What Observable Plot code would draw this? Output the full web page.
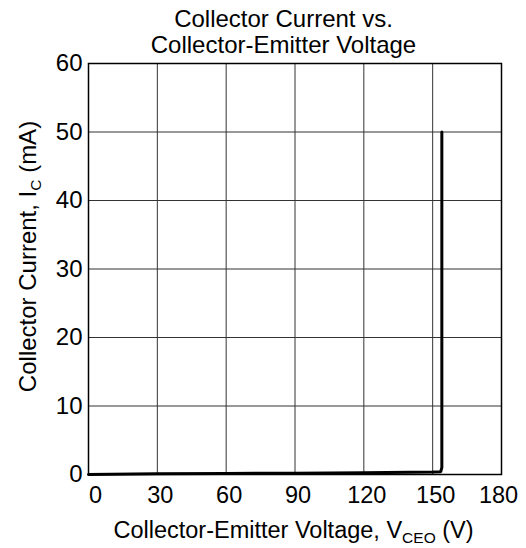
<!DOCTYPE html>
<html>
<head>
<meta charset="utf-8">
<script src="https://cdn.jsdelivr.net/npm/d3@7"></script>
<script src="https://cdn.jsdelivr.net/npm/@observablehq/plot@0.6"></script>
<style>
  html, body { margin: 0; padding: 0; background: #fff; }
  svg { font-family: "Liberation Sans", Arial, sans-serif; }
</style>
</head>
<body>
<div id="chart"></div>
<script>
// Data
const voltage = [0, 30, 60, 90, 120, 150, 153.5, 154, 154];
const current = [0, 0.1, 0.15, 0.2, 0.27, 0.35, 0.4, 1, 50];
const xTicks = [0, 30, 60, 90, 120, 150, 180];
const yTicks = [0, 10, 20, 30, 40, 50, 60];
const titleLines = ["Collector Current vs.", "Collector-Emitter Voltage"];
const xLabel = {main: "Collector-Emitter Voltage, V", sub: "CEO", tail: " (V)"};
const yLabel = {main: "Collector Current, I", sub: "C", tail: " (mA)"};

const data = voltage.map((v, i) => ({v, c: current[i]}));

const W = 526, H = 548;
const mL = 88, mR = 25, mT = 63, mB = 74;

const firstTick = xTicks.slice(0, 1);
const midTicks = xTicks.slice(1, -1);
const lastTick = xTicks.slice(-1);

const plot = Plot.plot({
  width: W,
  height: H,
  marginLeft: mL,
  marginRight: mR,
  marginTop: mT,
  marginBottom: mB,
  style: {fontFamily: "Liberation Sans, Arial, sans-serif", fontSize: "23px", color: "#000", background: "#fff"},
  x: {domain: [0, 180], ticks: xTicks, label: null},
  y: {domain: [0, 60], ticks: yTicks, label: null},
  marks: [
    Plot.gridX(xTicks, {stroke: "#333", strokeOpacity: 1, strokeWidth: 1}),
    Plot.gridY(yTicks, {stroke: "#333", strokeOpacity: 1, strokeWidth: 1}),
    Plot.axisX(firstTick, {tickSize: 0, tickPadding: 12, fontSize: 23.5, dx: 7}),
    Plot.axisX(midTicks, {tickSize: 0, tickPadding: 12, fontSize: 23.5, dx: 3}),
    Plot.axisX(lastTick, {tickSize: 0, tickPadding: 12, fontSize: 23.5, dx: -3}),
    Plot.axisY(yTicks, {tickSize: 0, tickPadding: 6, fontSize: 24}),
    Plot.line(data, {x: "v", y: "c", stroke: "#000", strokeWidth: 3, strokeLinejoin: "miter"}),
    Plot.frame({stroke: "#000", strokeWidth: 1.5})
  ]
});

document.getElementById("chart").appendChild(plot);

const svg = d3.select(plot);
const cx = mL + (W - mL - mR) / 2;
const cy = mT + (H - mT - mB) / 2;

const title = svg.append("g")
  .attr("text-anchor", "middle")
  .attr("font-size", 24)
  .attr("fill", "#000");
titleLines.forEach((t, i) => {
  title.append("text").attr("x", cx - 11).attr("y", 27 + i * 25.5).text(t);
});

function label(sel, spec) {
  sel.append("tspan").text(spec.main);
  sel.append("tspan").attr("font-size", 15.5).attr("dy", 5).text(spec.sub);
  sel.append("tspan").attr("dy", -5).text(spec.tail);
}

const xl = svg.append("text")
  .attr("text-anchor", "middle")
  .attr("font-size", 23.5)
  .attr("x", cx - 1)
  .attr("y", 538);
label(xl, xLabel);

const yl = svg.append("text")
  .attr("text-anchor", "middle")
  .attr("font-size", 24)
  .attr("transform", `translate(36,${cy - 12}) rotate(-90)`);
label(yl, yLabel);
</script>
</body>
</html>
